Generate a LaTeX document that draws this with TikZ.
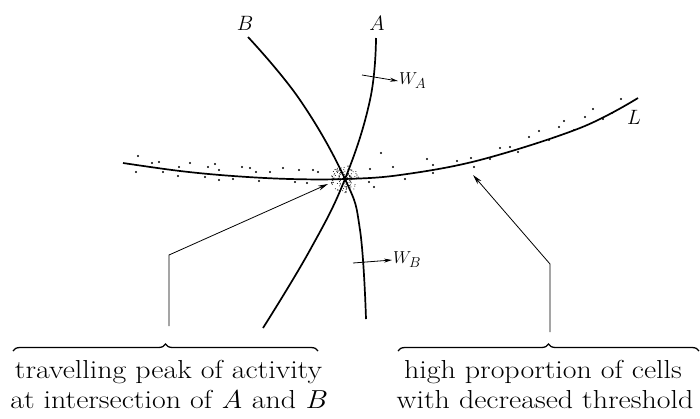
\documentclass[tikz,border=0pt]{standalone}
\usetikzlibrary{arrows.meta,decorations.pathreplacing}
\begin{document}
\begin{tikzpicture}[x=1pt,y=-1pt,
  curve/.style={line width=1.7pt},
  ptr/.style={line width=0.8pt,-{Stealth[length=10pt,width=5pt]}},
  wgt/.style={line width=0.8pt,-{Stealth[length=8pt,width=4pt]}},
  brc/.style={line width=1.3pt,decorate,decoration={brace,amplitude=7pt}},
  lbl/.style={font=\fontsize{21}{24}\selectfont},
  wlbl/.style={font=\fontsize{19}{22}\selectfont,anchor=west,inner sep=1pt},
  txt/.style={font=\fontsize{26}{30}\selectfont,anchor=base,inner sep=0pt},
  dotc/.style={fill=black}]
\useasboundingbox (0,0) rectangle (700,418);

% main lines
\draw[curve] plot[smooth,tension=0.6] coordinates {(123,163) (180,171) (233,176) (290,179) (345,179) (400,175) (480,160) (580,128) (638,98)};
\draw[curve] plot[smooth,tension=0.7] coordinates {(248,37) (300,100) (345,179) (360,230) (366,319)};
\draw[curve] plot[smooth,tension=0.7] coordinates {(376,38) (370,100) (345,179) (310,250) (263,328)};

% labels
\node[lbl] (lB) at (245,23) {$B$};
\node[lbl] (lA) at (377,23) {$A$};
\node[lbl] (lL) at (634,117) {$L$};
\node[wlbl] (wA) at (398,81) {$W_A$};
\node[wlbl] (wB) at (392,260) {$W_B$};
\coordinate (wA0) at (362,75);
\coordinate (wB0) at (353,263);
\draw[wgt] (wA0) -- (wA.west);
\draw[wgt] (wB0) -- (wB.west);

% scattered dots along L
\foreach \p in {(138,156),(152,163),(159,162),(136,172),(163,172),(179,167),(178,176),(190,163),(208,167),(215,164),(219,170),(205,177),(219,180),(233,179),(242,167),(250,168),(256,172),(270,172),(259,181),(283,168),(299,170),(295,182),(307,183),(313,170),(318,172),(370,169),(393,167),(405,179),(374,187),(369,182),(381,153),(427,159),(433,165),(433,173),(457,161),(471,158),(474,167),(490,159),(500,148),(510,147),(518,152),(529,137),(539,131),(549,140),(564,121),(559,127),(574,130),(585,117),(593,109),(603,119),(612,113),(621,99)}
  \fill[dotc] \p circle (1.1);

% stipple at intersection
\pgfmathsetseed{4711}
\foreach \i in {1,...,140}{
  \pgfmathsetmacro\myrad{14*rnd^0.7}
  \pgfmathsetmacro\myang{360*rnd}
  \fill[dotc] ({345+\myrad*cos(\myang)},{179+\myrad*sin(\myang)}) circle (0.5);
}

% pointers
\coordinate (lp0) at (169,326);
\coordinate (lp1) at (169,255);
\coordinate (lp2) at (328,184);
\draw[ptr] (lp0) -- (lp1) -- (lp2);
\coordinate (rp0) at (550,332);
\coordinate (rp1) at (550,264);
\coordinate (rp2) at (473,175);
\draw[ptr] (rp0) -- (rp1) -- (rp2);

% braces
\coordinate (b1a) at (13,351);
\coordinate (b1b) at (318,351);
\coordinate (b2a) at (398,351);
\coordinate (b2b) at (699,351);
\draw[brc] (b1a) -- (b1b);
\draw[brc] (b2a) -- (b2b);

% texts
\node[txt] (t1a) at (168.5,378) {\scalebox{1.15}[1]{travelling peak of activity}};
\node[txt] (t1b) at (168.5,408) {\scalebox{1.15}[1]{at intersection of \textit{A} and \textit{B}}};
\node[txt] (t2a) at (543,378) {\scalebox{1.15}[1]{high proportion of cells}};
\node[txt] (t2b) at (545,408) {\scalebox{1.15}[1]{with decreased threshold}};
\end{tikzpicture}
\end{document}
